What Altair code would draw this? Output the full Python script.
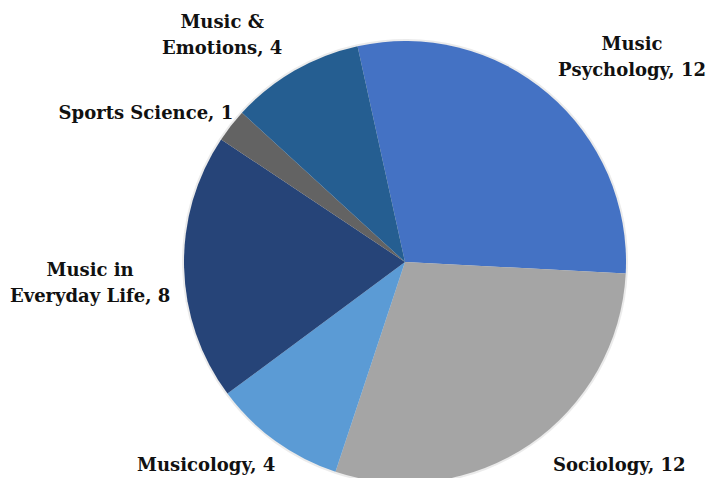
import math
import altair as alt
import pandas as pd

categories = ["Music Psychology", "Sociology", "Musicology",
              "Music in Everyday Life", "Sports Science", "Music & Emotions"]
values = [12, 12, 4, 8, 1, 4]
label_texts = ["Music\nPsychology, 12", "Sociology, 12", "Musicology, 4",
               "Music in\nEveryday Life, 8", "Sports Science, 1", "Music &\nEmotions, 4"]
colors = ["#4472C4", "#A5A5A5", "#5B9BD5", "#264478", "#636363", "#255E91"]

# build table
starts, ends = [], []
acc = 0
for v in values:
    starts.append(acc)
    acc += v
    ends.append(acc)
total = acc
df = pd.DataFrame({
    "cat": categories,
    "value": values,
    "start": starts,
    "end": ends,
    "mid": [(s + e) / 2 for s, e in zip(starts, ends)],
    "label": label_texts,
})

start_angle = math.radians(-12.4)
theta_scale = alt.Scale(domain=[0, total], range=[start_angle, start_angle + 2 * math.pi])

base = alt.Chart(df)

shadow = base.mark_arc(outerRadius=223, color="#000000", opacity=0.08).encode(
    theta=alt.Theta("start:Q", scale=theta_scale),
    theta2="end:Q",
)

arcs = base.mark_arc(outerRadius=221).encode(
    theta=alt.Theta("start:Q", scale=theta_scale),
    theta2="end:Q",
    color=alt.Color("cat:N", scale=alt.Scale(domain=categories, range=colors), legend=None),
)

# label offsets (style): dx, dy relative to point on mid-angle ray at radius 300
offsets = {
    "Music Psychology": (33, 12),
    "Sociology": (45, -44),
    "Musicology": (-23, -39),
    "Music in Everyday Life": (-15, 2),
    "Sports Science": (-23, 37),
    "Music & Emotions": (-33, 21),
}

layers = [shadow, arcs]
for cat in categories:
    dx, dy = offsets[cat]
    layers.append(
        base.transform_filter(alt.datum.cat == cat).mark_text(
            radius=300, dx=dx, dy=dy, font="DejaVu Serif", fontWeight="bold",
            fontSize=18, lineBreak="\n", lineHeight=26, align="center",
            baseline="middle", color="#111111",
        ).encode(
            theta=alt.Theta("mid:Q", scale=theta_scale),
            text="label:N",
        )
    )

chart = alt.layer(*layers).properties(
    width=460, height=400,
    padding={"left": 167, "top": 54, "right": 72, "bottom": 16},
    autosize="none",
).configure_view(stroke=None)

chart.save("out.html", embed_options={"renderer": "svg", "actions": False})
